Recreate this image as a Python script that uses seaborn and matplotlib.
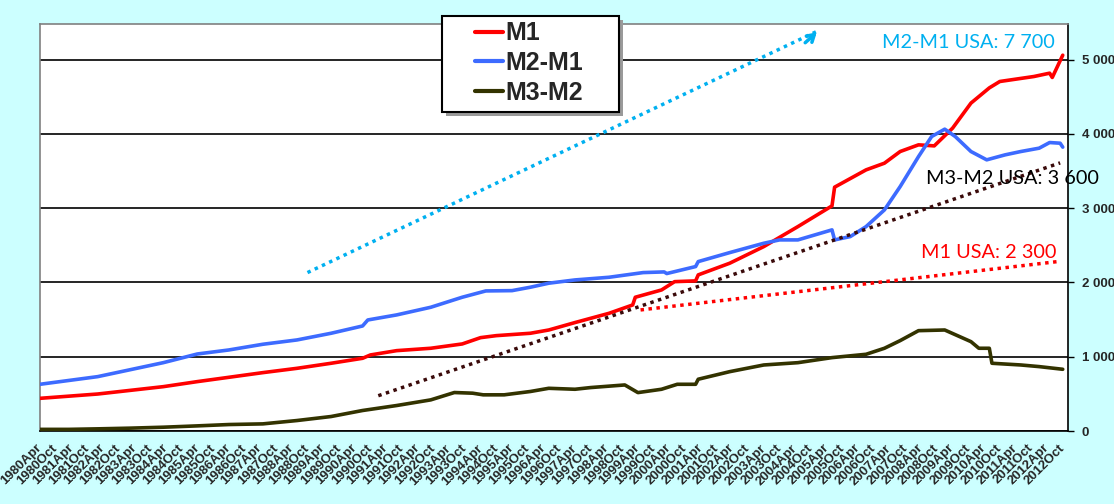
import matplotlib
matplotlib.use("Agg")
import matplotlib.pyplot as plt
from matplotlib.lines import Line2D
from matplotlib.patches import Rectangle
from matplotlib.ticker import MultipleLocator, FuncFormatter
import seaborn as sns
import pandas as pd

# values (billions), month "YYYY-MM"
m1_dates = ["1980-04", "1982-02", "1984-03", "1985-04", "1986-04", "1987-05", "1988-06",
            "1989-07", "1990-07", "1990-10", "1991-08", "1992-09", "1993-09", "1994-04",
            "1994-10", "1995-11", "1996-06", "1997-04", "1998-05", "1999-02", "1999-03",
            "2000-01", "2000-06", "2001-02", "2001-03", "2002-03", "2003-04", "2004-05",
            "2005-06", "2005-07", "2006-07", "2007-02", "2007-08", "2008-03", "2008-09",
            "2009-04", "2009-11", "2010-06", "2010-10", "2011-11", "2012-05", "2012-06",
            "2012-10"]
m1_values = [440, 498, 597, 665, 723, 786, 844,
             912, 979, 1024, 1082, 1114, 1172, 1257,
             1284, 1316, 1360, 1460, 1585, 1697, 1801,
             1899, 2011, 2021, 2102, 2259, 2483, 2752,
             3031, 3283, 3516, 3606, 3763, 3853, 3839,
             4078, 4415, 4620, 4706, 4773, 4818, 4760,
             5060]

m2m1_dates = ["1980-04", "1982-02", "1984-03", "1985-04", "1986-04", "1987-05", "1988-06",
              "1989-07", "1990-07", "1990-09", "1991-08", "1992-09", "1993-09", "1994-06",
              "1995-04", "1995-11", "1996-06", "1997-04", "1998-05", "1999-06", "2000-02",
              "2000-03", "2001-02", "2001-03", "2002-03", "2003-04", "2003-10", "2004-05",
              "2005-06", "2005-07", "2006-01", "2006-07", "2007-02", "2007-08", "2008-03",
              "2008-08", "2009-01", "2009-05", "2009-11", "2010-05", "2010-12", "2011-06",
              "2012-01", "2012-05", "2012-09", "2012-10"]
m2m1_values = [629, 732, 920, 1037, 1091, 1168, 1226,
               1316, 1414, 1495, 1563, 1666, 1801, 1886,
               1890, 1936, 1990, 2034, 2070, 2133, 2142,
               2120, 2214, 2281, 2402, 2528, 2573, 2573,
               2708, 2573, 2618, 2752, 2977, 3291, 3695,
               3965, 4064, 3965, 3763, 3651, 3718, 3763,
               3808, 3884, 3875, 3822]

m3m2_dates = ["1980-04", "1981-03", "1982-02", "1983-02", "1984-03", "1985-04", "1986-04",
              "1987-05", "1988-06", "1989-07", "1990-07", "1991-08", "1992-09", "1993-06",
              "1994-01", "1994-05", "1995-01", "1995-11", "1996-06", "1997-04", "1997-10",
              "1998-11", "1999-04", "2000-01", "2000-07", "2001-02", "2001-03", "2002-03",
              "2003-04", "2004-05", "2005-06", "2006-07", "2007-02", "2007-08", "2008-03",
              "2009-01", "2009-11", "2010-02", "2010-06", "2010-07", "2011-06", "2012-01",
              "2012-10"]
m3m2_values = [22, 22, 29, 38, 51, 69, 87,
               96, 141, 195, 276, 343, 419, 518,
               509, 487, 487, 532, 575, 562, 585,
               620, 517, 562, 629, 629, 697, 799,
               889, 920, 988, 1033, 1114, 1217, 1351,
               1360, 1203, 1114, 1114, 912, 889, 867,
               831]

# trend annotations
m2m1_arrow_dates = ["1988-10", "2005-01"]
m2m1_arrow_values = [2133, 5393]
m3m2_trend_dates = ["1991-01", "2012-09"]
m3m2_trend_values = [475, 3610]
m1_trend_dates = ["1999-05", "2012-09"]
m1_trend_values = [1630, 2285]

notes = [("M2-M1 USA: 7 700", "2007-01", 5230, "#00B0F0"),
         ("M3-M2 USA: 3 600", "2008-06", 3395, "#000000"),
         ("M1 USA: 2 300", "2008-04", 2410, "#FF0000")]

series_names = ["M1", "M2-M1", "M3-M2"]
series_colors = ["#FF0000", "#3D6BFF", "#333300"]
tick_labels = [f"{y}{m}" for y in range(1980, 2013) for m in ("Apr", "Oct")]


def month_idx(s):
    y, m = map(int, s.split("-"))
    return (y - 1980) * 12 + m - 4


frames = []
for name, d, v in zip(series_names, [m1_dates, m2m1_dates, m3m2_dates],
                      [m1_values, m2m1_values, m3m2_values]):
    frames.append(pd.DataFrame({"month": [month_idx(s) for s in d], "value": v, "series": name}))
df = pd.concat(frames, ignore_index=True)

sns.set_style("white")
plt.rcParams["font.family"] = ["Liberation Sans", "DejaVu Sans"]

bg = "#CCFFFF"
fig = plt.figure(figsize=(11.14, 5.04), dpi=100, facecolor=bg)
ax = fig.add_axes([40 / 1114, 1 - 431 / 504, 1028 / 1114, 407 / 504])
ax.set_facecolor("white")

sns.lineplot(data=df, x="month", y="value", hue="series", palette=dict(zip(series_names, series_colors)),
             estimator=None, linewidth=2.6, legend=False, ax=ax, zorder=3)

dot = (0, (1, 1.3))
ax.plot([month_idx(s) for s in m3m2_trend_dates], m3m2_trend_values, color="#3A0A0A",
        lw=2.5, ls=dot, dash_capstyle="butt", zorder=4)
ax.plot([month_idx(s) for s in m1_trend_dates], m1_trend_values, color="#FF0000",
        lw=2.5, ls=dot, dash_capstyle="butt", zorder=4)
ax.plot([month_idx(s) for s in m2m1_arrow_dates], m2m1_arrow_values, color="#00B0F0",
        lw=2.5, ls=dot, dash_capstyle="butt", zorder=4)
ax.annotate("", xy=(month_idx(m2m1_arrow_dates[1]), m2m1_arrow_values[1]),
            xytext=(month_idx(m2m1_arrow_dates[1]) - 6, m2m1_arrow_values[1] - 190),
            arrowprops=dict(arrowstyle="->,head_length=0.5,head_width=0.3", color="#00B0F0", lw=2.5),
            zorder=4)

for txt, d, v, c in notes:
    ax.text(month_idx(d), v, txt, color=c, fontsize=14.3, family=["Lato", "DejaVu Sans"],
            ha="left", va="center", zorder=5)

ax.set_xlim(0, 392)
ax.set_ylim(0, 5480)
ax.set_xlabel("")
ax.set_ylabel("")

ax.yaxis.tick_right()
ax.yaxis.set_major_locator(MultipleLocator(1000))
ax.yaxis.set_major_formatter(FuncFormatter(lambda v, p: f"{int(v):,}".replace(",", " ")))
ax.grid(axis="y", color="black", lw=1.2)
ax.set_axisbelow(True)
ax.tick_params(axis="y", which="major", length=4, width=1, color="black", pad=6,
               direction="out")
for lab in ax.get_yticklabels():
    lab.set_fontweight("bold")
    lab.set_fontsize(9.5)
    lab.set_family(["Liberation Sans Narrow", "Liberation Sans", "DejaVu Sans"])

ax.set_xticks([i * 6 for i in range(len(tick_labels))])
ax.set_xticklabels(tick_labels, rotation=45, ha="right", va="center", rotation_mode="anchor",
                   fontsize=9.5, fontweight="bold")
ax.xaxis.set_minor_locator(MultipleLocator(1.3))
ax.tick_params(axis="x", which="both", length=3, width=1, color="black", pad=8, direction="out")

for side in ["left", "top"]:
    ax.spines[side].set_color("#808080")
for side in ["right", "bottom"]:
    ax.spines[side].set_color("black")
for sp in ax.spines.values():
    sp.set_linewidth(1.2)
    sp.set_visible(True)

# legend box with shadow
x0, y0, w, h = 442 / 1114, 1 - 112 / 504, 177 / 1114, 96 / 504
fig.patches.append(Rectangle((x0 + 4 / 1114, y0 - 4 / 504), w, h, transform=fig.transFigure,
                             facecolor="#9A9A9A", edgecolor="none", zorder=9))
fig.patches.append(Rectangle((x0, y0), w, h, transform=fig.transFigure,
                             facecolor="white", edgecolor="black", lw=1.5, zorder=10))
handles = [Line2D([], [], color=c, lw=3) for c in series_colors]
leg = fig.legend(handles, series_names, loc="upper left", bbox_to_anchor=(462 / 1114, 1 - 9 / 504),
                 frameon=False, handlelength=1.15, handletextpad=0.1, labelspacing=0.22,
                 borderpad=0, prop=dict(size=18, weight="bold"))
leg.set_zorder(11)

fig.savefig("out.png", dpi=100, facecolor=bg)
